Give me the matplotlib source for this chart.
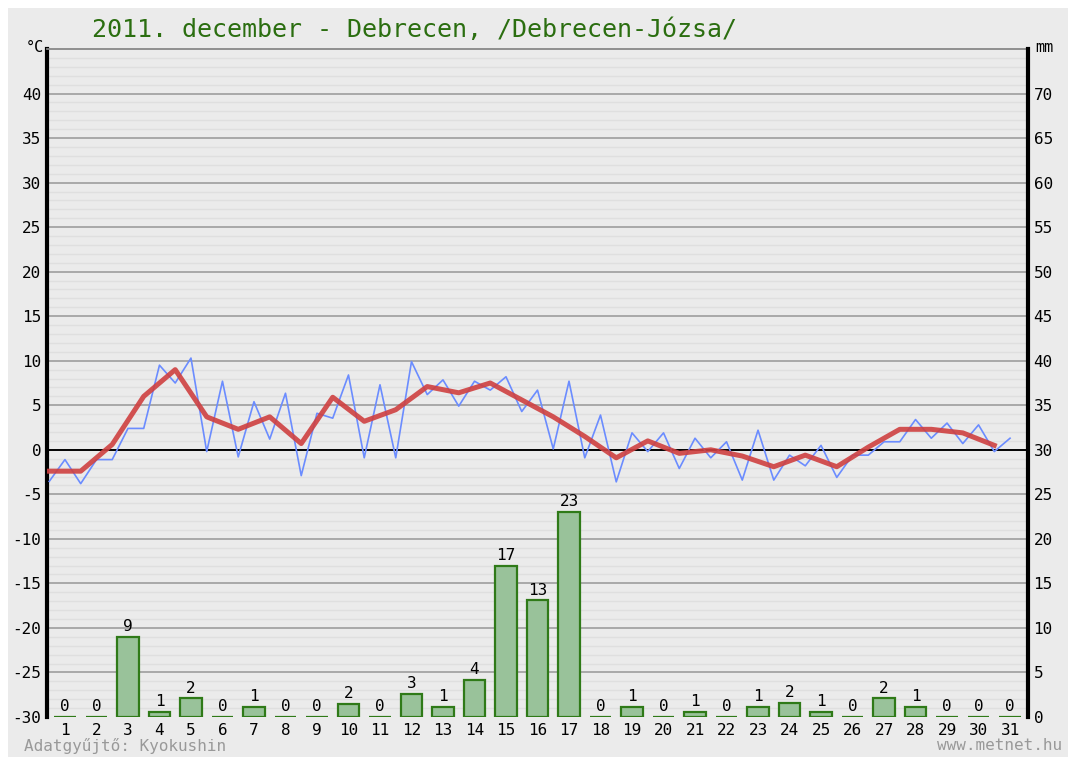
import matplotlib.pyplot as plt
import matplotlib.patches as mpatches
import numpy as np

# napok es adatok
napok = np.arange(1, 32)

# napi kozephomerseklet (piros), a nap kozepen
kozep_hom = [-2.4, -2.4, 0.6, 6.0, 9.0, 3.7, 2.3, 3.7, 0.7, 5.9,
             3.2, 4.5, 7.1, 6.4, 7.5, 5.6, 3.7, 1.5, -0.9, 1.0,
             -0.4, 0.0, -0.7, -1.9, -0.6, -1.9, 0.3, 2.3, 2.3, 1.9, 0.5]

# felnapos homerseklet (kek)
felnap_hom = [-3.55, -1.1, -3.8, -1.1, -1.1, 2.4, 2.4, 9.5, 7.5, 10.3,
              -0.2, 7.7, -0.8, 5.4, 1.2, 6.35, -2.9, 4.1, 3.55, 8.4,
              -0.9, 7.3, -0.9, 9.9, 6.2, 7.85, 4.9, 7.7, 6.7, 8.2,
              4.3, 6.7, 0.1, 7.7, -0.9, 3.9, -3.6, 1.9, -0.2, 1.9,
              -2.1, 1.3, -0.9, 0.9, -3.4, 2.2, -3.4, -0.6, -1.8, 0.5,
              -3.1, -0.6, -0.6, 0.9, 0.9, 3.4, 1.3, 3.0, 0.7, 2.8,
              -0.2, 1.3]

# csapadek (mm) es a feliratok
csapadek = [0, 0, 9.0, 0.6, 2.1, 0, 1.15, 0, 0, 1.5,
            0, 2.6, 1.15, 4.15, 17.0, 13.1, 23.0, 0, 1.1, 0,
            0.6, 0, 1.1, 1.6, 0.6, 0, 2.1, 1.1, 0, 0, 0]
csapadek_felirat = [0, 0, 9, 1, 2, 0, 1, 0, 0, 2, 0, 3, 1, 4, 17, 13, 23,
                    0, 1, 0, 1, 0, 1, 2, 1, 0, 2, 1, 0, 0, 0]

cim = '2011. december - Debrecen, /Debrecen-Józsa/'
mono = 'DejaVu Sans Mono'

fig = plt.figure(figsize=(10.68, 7.6), dpi=100)
fig.patch.set_facecolor('white')
fig.patches.append(mpatches.Rectangle((8 / 1068, 3 / 760), 1060 / 1068, 749 / 760,
                                      transform=fig.transFigure, facecolor='#ebebeb',
                                      edgecolor='none', zorder=-10))

ax = fig.add_axes([47 / 1068, 43 / 760, 981 / 1068, 668 / 760])
ax.set_facecolor('#ebebeb')
ax.set_xlim(0.43, 31.57)
ax.set_ylim(-30, 45)

# racs
for y in range(-29, 45):
    if y % 5 != 0:
        ax.axhline(y, color='#dfdfdf', lw=1.0, zorder=0)
for y in range(-25, 45, 5):
    if y != 0:
        ax.axhline(y, color='#a3a3a3', lw=1.3, zorder=0.5)
ax.axhline(0, color='black', lw=1.4, zorder=1)

x_felnap = 0.5 + np.arange(len(felnap_hom)) / 2
x_kozep = napok - 0.5
ax.plot(x_felnap, felnap_hom, color='#6b8cff', lw=1.2, zorder=3)
ax.plot(x_kozep, kozep_hom, color='#cf4040', lw=3.6, alpha=0.9, zorder=4,
        solid_joinstyle='round')

ax.set_yticks(np.arange(-30, 45, 5))
ax.set_yticklabels([str(v) for v in range(-30, 45, 5)], fontfamily=mono, fontsize=11.5)
ax.set_xticks(napok)
ax.set_xticklabels([str(d) for d in napok], fontfamily=mono, fontsize=11.5)
ax.tick_params(axis='both', length=0, pad=4)

ax.spines['left'].set_linewidth(3)
ax.spines['left'].set_color('black')
ax.spines['right'].set_visible(False)
ax.spines['top'].set_color('#888888')
ax.spines['top'].set_linewidth(1.3)
ax.spines['bottom'].set_visible(False)

ax2 = ax.twinx()
ax2.set_ylim(0, 75)
ax2.bar(napok, csapadek, width=0.68, color='#99c29a', edgecolor='#2f7a18', lw=1.6, zorder=2)
for d, h, t in zip(napok, csapadek, csapadek_felirat):
    ax2.annotate(str(t), (d, h), xytext=(0, 2), textcoords='offset points',
                 ha='center', va='bottom', fontfamily=mono, fontsize=11.5)
ax2.set_yticks(np.arange(0, 75, 5))
ax2.set_yticklabels([str(v) for v in range(0, 75, 5)], fontfamily=mono, fontsize=11.5)
ax2.tick_params(axis='y', length=0, pad=4)
ax2.spines['right'].set_linewidth(3)
ax2.spines['right'].set_color('black')
for s in ['left', 'top', 'bottom']:
    ax2.spines[s].set_visible(False)

fig.text(92 / 1068, 1 - 30 / 760, cim, color='#2b6e10', fontfamily=mono, fontsize=18,
         ha='left', va='center')
fig.text(44 / 1068, 1 - 47 / 760, '°C', fontfamily=mono, fontsize=11, ha='right', va='center')
fig.text(1035 / 1068, 1 - 47 / 760, 'mm', fontfamily=mono, fontsize=11, ha='left', va='center')
fig.text(24 / 1068, 1 - 746 / 760, 'Adatgyűjtő: Kyokushin', color='#999999',
         fontfamily=mono, fontsize=11.5, ha='left', va='center')
fig.text(1062 / 1068, 1 - 746 / 760, 'www.metnet.hu', color='#999999',
         fontfamily=mono, fontsize=11.5, ha='right', va='center')

fig.savefig('out.png', dpi=100)
